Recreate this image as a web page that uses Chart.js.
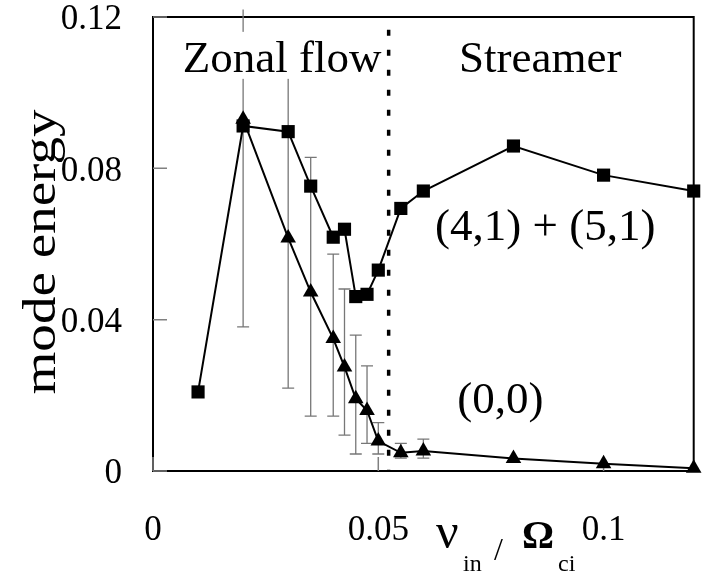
<!DOCTYPE html>
<html>
<head>
<meta charset="utf-8">
<title>mode energy vs collision frequency</title>
<script src="https://cdn.jsdelivr.net/npm/chart.js@4.4.0/dist/chart.umd.min.js"></script>
<style>
  html, body { margin: 0; padding: 0; background: #ffffff; }
  #wrap { width: 703px; height: 573px; }
</style>
</head>
<body>
<div id="wrap"><canvas id="energyChart" width="703" height="573"></canvas></div>
<script>
// --- Values ---
const streamerNu = [0.01, 0.02, 0.03, 0.035, 0.04, 0.0425, 0.045, 0.0475, 0.05, 0.055, 0.06, 0.08, 0.1, 0.12];
const streamerEnergy = [0.0209, 0.0912, 0.0897, 0.0753, 0.0618, 0.0639, 0.0461, 0.0467, 0.0531, 0.0694, 0.074, 0.0859, 0.0782, 0.074];

const zonalNu = [0.02, 0.03, 0.035, 0.04, 0.0425, 0.045, 0.0475, 0.05, 0.055, 0.06, 0.08, 0.1, 0.12];
const zonalEnergy = [0.093, 0.0616, 0.0473, 0.035, 0.0275, 0.0191, 0.016, 0.0079, 0.0048, 0.0053, 0.0033, 0.0019, 0.0007];
const zonalErrLow = [0.0381, 0.0219, 0.0145, 0.0145, 0.0095, 0.0045, 0.0073, 0.0045, 0.0034, 0.0034, null, null, null];
const zonalErrHigh = [0.122, 0.105, 0.0829, 0.0573, 0.0481, 0.0359, 0.0278, 0.0128, 0.0073, 0.0084, null, null, null];

const xTicks = [0, 0.05, 0.1];
const yTicks = [0, 0.04, 0.08, 0.12];
const boundaryNu = 0.0523;   // dotted line between the two regimes

const serif = '"Liberation Serif", "Times New Roman", serif';

document.addEventListener('DOMContentLoaded', function() {

    const ctxEl = document.getElementById('energyChart');

    // --- Extra drawing: frame, inward ticks, error bars, text ---
    const figureExtras = {
        id: 'figureExtras',
        beforeDatasetsDraw(chart) {
            const { ctx, chartArea: area, scales: { x, y } } = chart;
            ctx.save();

            // plot frame
            ctx.strokeStyle = '#000';
            ctx.lineWidth = 2;
            ctx.strokeRect(area.left, area.top, area.right - area.left, area.bottom - area.top);

            // inward tick marks
            ctx.strokeStyle = '#808080';
            ctx.lineWidth = 1.5;
            ctx.beginPath();
            yTicks.forEach(v => {
                const py = y.getPixelForValue(v);
                ctx.moveTo(area.left, py);
                ctx.lineTo(area.left + 14, py);
            });
            xTicks.forEach(v => {
                const px = x.getPixelForValue(v);
                ctx.moveTo(px, area.bottom);
                ctx.lineTo(px, area.bottom - 14);
            });
            ctx.stroke();

            // error bars on the (0,0) series
            ctx.strokeStyle = '#777';
            ctx.lineWidth = 1.3;
            ctx.beginPath();
            zonalNu.forEach((nu, i) => {
                if (zonalErrLow[i] === null) return;
                const px = x.getPixelForValue(nu);
                const pLow = y.getPixelForValue(zonalErrLow[i]);
                const pHigh = y.getPixelForValue(zonalErrHigh[i]);
                ctx.moveTo(px, pLow);
                ctx.lineTo(px, pHigh);
                ctx.moveTo(px - 6, pLow);
                ctx.lineTo(px + 6, pLow);
                if (zonalErrHigh[i] <= y.max) {
                    ctx.moveTo(px - 6, pHigh);
                    ctx.lineTo(px + 6, pHigh);
                }
            });
            ctx.stroke();

            // "Zonal flow" sits in a white text box that hides the bars behind it
            ctx.font = '45px ' + serif;
            ctx.textAlign = 'left';
            ctx.textBaseline = 'alphabetic';
            const zx = x.getPixelForValue(0.0066);
            const zy = y.getPixelForValue(0.1055);
            const zw = ctx.measureText('Zonal flow').width;
            ctx.fillStyle = '#fff';
            ctx.fillRect(zx - 3, zy - 40, zw + 6, 47);
            ctx.fillStyle = '#000';
            ctx.fillText('Zonal flow', zx, zy);

            // regime boundary
            const bx = x.getPixelForValue(boundaryNu);
            ctx.strokeStyle = '#000';
            ctx.lineWidth = 3.5;
            ctx.setLineDash([6, 14]);
            ctx.beginPath();
            ctx.moveTo(bx, y.getPixelForValue(0.1166));
            ctx.lineTo(bx, area.bottom);
            ctx.stroke();
            ctx.setLineDash([]);

            ctx.restore();
        },
        afterDraw(chart) {
            const { ctx, scales: { x, y } } = chart;
            ctx.save();
            ctx.fillStyle = '#000';
            ctx.textAlign = 'left';
            ctx.textBaseline = 'alphabetic';

            ctx.font = '45px ' + serif;
            ctx.fillText('Streamer', x.getPixelForValue(0.0679), y.getPixelForValue(0.1055));
            ctx.fillText('(4,1) + (5,1)', x.getPixelForValue(0.0626), y.getPixelForValue(0.0611));
            ctx.fillText('(0,0)', x.getPixelForValue(0.0675), y.getPixelForValue(0.0153));

            // x axis title: nu_in / Omega_ci
            ctx.font = '50px ' + serif;
            ctx.fillText('ν', 436, 548);
            ctx.font = '24px ' + serif;
            ctx.fillText('in', 463, 571);
            ctx.font = '32px ' + serif;
            ctx.fillText('/', 494, 560);
            ctx.font = 'bold 40px ' + serif;
            ctx.fillText('Ω', 522, 548);
            ctx.font = '24px ' + serif;
            ctx.fillText('ci', 558, 571);

            // y axis title, stretched along its length like the original
            ctx.translate(55, 252);
            ctx.rotate(-Math.PI / 2);
            ctx.font = '46px ' + serif;
            const tw = ctx.measureText('mode energy').width;
            ctx.scale(285 / tw, 1);
            ctx.textAlign = 'center';
            ctx.fillText('mode energy', 0, 0);
            ctx.restore();
        }
    };

    const tickFont = { family: serif, size: 35, lineHeight: 1 };
    const plainLabel = v => String(v);

    new Chart(ctxEl, {
        type: 'line',
        data: {
            datasets: [
                {
                    label: '(4,1) + (5,1)',
                    data: streamerNu.map((nu, i) => ({ x: nu, y: streamerEnergy[i] })),
                    borderColor: '#000',
                    backgroundColor: '#000',
                    borderWidth: 2,
                    pointStyle: 'rect',
                    pointRadius: 9.3,
                    pointBorderWidth: 0,
                    tension: 0,
                    clip: false
                },
                {
                    label: '(0,0)',
                    data: zonalNu.map((nu, i) => ({ x: nu, y: zonalEnergy[i] })),
                    borderColor: '#000',
                    backgroundColor: '#000',
                    borderWidth: 2,
                    pointStyle: 'triangle',
                    pointRadius: 9,
                    pointBorderWidth: 0,
                    tension: 0,
                    clip: false
                }
            ]
        },
        options: {
            responsive: false,
            animation: false,
            layout: { padding: { top: 17, right: 4, left: 0, bottom: 0 } },
            plugins: {
                legend: { display: false },
                tooltip: { enabled: false }
            },
            scales: {
                x: {
                    type: 'linear',
                    min: 0,
                    max: 0.12,
                    afterBuildTicks: s => { s.ticks = xTicks.map(v => ({ value: v })); },
                    afterFit: s => {
                        s.height = 102;
                        s.paddingLeft = 0;
                        s.paddingRight = 0;
                    },
                    grid: { display: false, drawTicks: false },
                    border: { display: false },
                    ticks: { font: tickFont, color: '#000', padding: 42, maxRotation: 0, callback: plainLabel }
                },
                y: {
                    min: 0,
                    max: 0.12,
                    afterBuildTicks: s => { s.ticks = yTicks.map(v => ({ value: v })); },
                    afterFit: s => {
                        s.width = 153;
                        s.paddingTop = 0;
                        s.paddingBottom = 0;
                    },
                    grid: { display: false, drawTicks: false },
                    border: { display: false },
                    ticks: { font: tickFont, color: '#000', padding: 31, labelOffset: 3, callback: plainLabel }
                }
            }
        },
        plugins: [figureExtras]
    });

});
</script>
</body>
</html>
